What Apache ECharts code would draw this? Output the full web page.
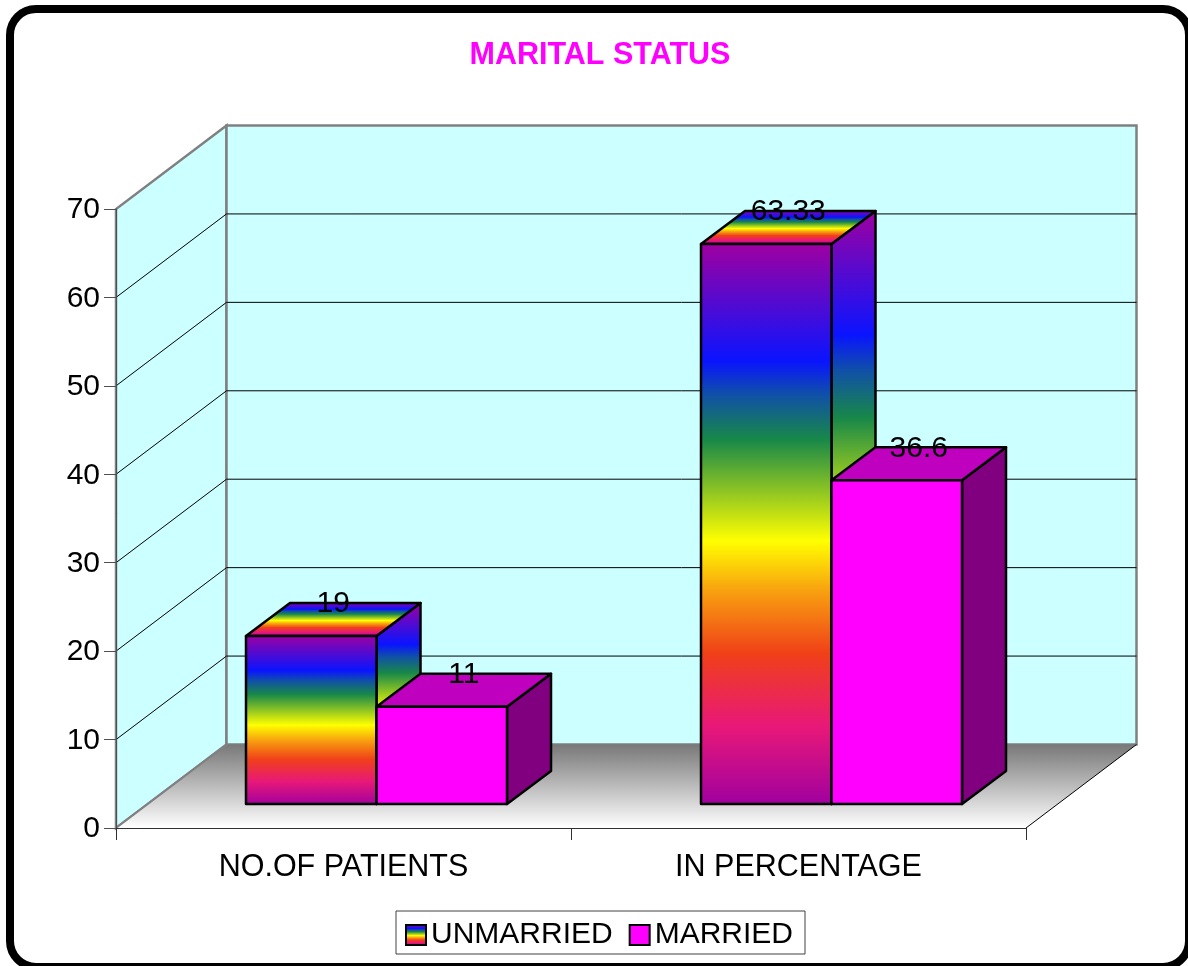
<!DOCTYPE html>
<html>
<head>
<meta charset="utf-8">
<style>html,body{margin:0;padding:0;background:#fff}#c{width:1188px;height:966px}</style>
<script src="https://cdn.jsdelivr.net/npm/echarts@6/dist/echarts.min.js"></script>
</head>
<body>
<div id="c"></div>
<script>
const titleText = 'MARITAL STATUS';
const categories = ['NO.OF PATIENTS', 'IN PERCENTAGE'];
const unmarried = [19, 63.33];
const married = [11, 36.6];
const seriesNames = ['UNMARRIED', 'MARRIED'];
const yTicks = [0, 10, 20, 30, 40, 50, 60, 70];

const FONT = '"Liberation Sans", Arial, sans-serif';
const WALL_DX = 110.5, WALL_DY = 83.5;
const BAR_W = 130.5, BAR_DX = 44, BAR_DY = 33, FLOOR_UP = 24, GROUP_SHIFT = -97.5;

const rainbow = {
  type: 'linear', x: 0, y: 0, x2: 0, y2: 1,
  colorStops: [
    { offset: 0, color: '#A000A0' },
    { offset: 0.21, color: '#0A14FF' },
    { offset: 0.27, color: '#1050A8' },
    { offset: 0.35, color: '#188848' },
    { offset: 0.53, color: '#FFFF00' },
    { offset: 0.62, color: '#F8A010' },
    { offset: 0.73, color: '#F04018' },
    { offset: 0.86, color: '#E81878' },
    { offset: 1, color: '#A000A0' }
  ]
};
const faces = [
  { front: rainbow, top: rainbow, side: rainbow },
  { front: '#FF00FF', top: '#BF00BF', side: '#800080' }
];

function wallsRender(params, api) {
  if (params.dataIndex !== 0) return;
  const c = params.coordSys;
  const x0 = c.x, x1 = c.x + c.width, yb = c.y + c.height, yt = c.y;
  const dx = WALL_DX, dy = WALL_DY;
  return {
    type: 'group',
    children: [
      { type: 'polygon', shape: { points: [[x0, yb], [x0, yt], [x0 + dx, yt - dy], [x0 + dx, yb - dy]] },
        style: { fill: '#CCFFFF', stroke: '#808080', lineWidth: 2.5 } },
      { type: 'polygon', shape: { points: [[x0 + dx, yt - dy], [x1 + dx, yt - dy], [x1 + dx, yb - dy], [x0 + dx, yb - dy]] },
        style: { fill: '#CCFFFF', stroke: '#808080', lineWidth: 2.5 } },
      { type: 'polygon', shape: { points: [[x0, yb], [x1, yb], [x1 + dx, yb - dy], [x0 + dx, yb - dy]] },
        style: { fill: { type: 'linear', x: 0, y: 0, x2: 0, y2: 1, colorStops: [{ offset: 0, color: '#787878' }, { offset: 1, color: '#FFFFFF' }] } } },
      { type: 'line', shape: { x1: x0, y1: yb, x2: x0 + dx, y2: yb - dy }, style: { stroke: '#808080', lineWidth: 2 } },
      { type: 'line', shape: { x1: x1, y1: yb, x2: x1 + dx, y2: yb - dy }, style: { stroke: '#000', lineWidth: 1 } }
    ]
  };
}

function gridRender(params, api) {
  const v = api.value(0);
  const c = params.coordSys;
  const y = api.coord([0, v])[1];
  const x0 = c.x, x1 = c.x + c.width;
  const children = [
    { type: 'text', style: { text: String(v), x: x0 - 16, y: y + 1, font: '30px ' + FONT, fill: '#000', align: 'right', verticalAlign: 'middle' } }
  ];
  if (v !== yTicks[0] && v !== yTicks[yTicks.length - 1]) {
    children.push({
      type: 'polyline',
      shape: { points: [[x0, y], [x0 + WALL_DX, y - WALL_DY], [x1 + WALL_DX, y - WALL_DY]] },
      style: { stroke: '#000', lineWidth: 1, fill: null }
    });
  }
  return { type: 'group', children };
}

function barRender(seriesIndex) {
  return function (params, api) {
    const idx = api.value(0), val = api.value(1);
    const centre = api.coord([idx, 0])[0];
    const left = centre + GROUP_SHIFT + seriesIndex * BAR_W;
    const right = left + BAR_W;
    const base = api.coord([idx, 0])[1] - FLOOR_UP;
    const top = api.coord([idx, val])[1] - FLOOR_UP;
    const f = faces[seriesIndex];
    const edge = { stroke: '#000', lineWidth: 2.5, lineJoin: 'round' };
    return {
      type: 'group',
      children: [
        { type: 'polygon', shape: { points: [[right, top], [right + BAR_DX, top - BAR_DY], [right + BAR_DX, base - BAR_DY], [right, base]] },
          style: Object.assign({ fill: f.side }, edge) },
        { type: 'polygon', shape: { points: [[left, top], [left + BAR_DX, top - BAR_DY], [right + BAR_DX, top - BAR_DY], [right, top]] },
          style: Object.assign({ fill: f.top }, edge) },
        { type: 'polygon', shape: { points: [[left, top], [right, top], [right, base], [left, base]] },
          style: Object.assign({ fill: f.front }, edge) },
        { type: 'text', style: { text: String(val), x: (left + right + BAR_DX) / 2, y: top - BAR_DY + 1,
            font: '30px ' + FONT, fill: '#000', align: 'center', verticalAlign: 'middle' } }
      ]
    };
  };
}

const chart = echarts.init(document.getElementById('c'), null, { renderer: 'canvas' });
chart.setOption({
  animation: false,
  backgroundColor: '#fff',
  title: {
    text: titleText, left: 595, top: 35, textAlign: 'center',
    textStyle: { fontFamily: FONT, fontSize: 30.5, fontWeight: 'bold', color: '#FF00FF' }
  },
  graphic: [{
    type: 'rect', z: -10, silent: true,
    shape: { x: 10, y: 9, width: 1179, height: 958, r: 26 },
    style: { fill: '#fff', stroke: '#000', lineWidth: 8 }
  }],
  legend: {
    left: 396, top: 911, orient: 'horizontal',
    padding: [9, 12, 4, 9], itemGap: 16, itemWidth: 20, itemHeight: 20,
    borderColor: '#404040', borderWidth: 1, selectedMode: false,
    textStyle: { fontFamily: FONT, fontSize: 30, color: '#000' },
    data: [
      { name: seriesNames[0], icon: 'rect', itemStyle: { color: rainbow, borderColor: '#000', borderWidth: 2 } },
      { name: seriesNames[1], icon: 'rect', itemStyle: { color: '#FF00FF', borderColor: '#000', borderWidth: 2 } }
    ]
  },
  grid: { left: 116, top: 209, width: 910, height: 619, containLabel: false },
  xAxis: {
    type: 'category', data: categories, z: 6,
    axisLine: { show: true, onZero: false, lineStyle: { color: '#303030', width: 1 } },
    axisTick: { show: true, length: 12, alignWithLabel: false, lineStyle: { color: '#303030' } },
    axisLabel: { margin: 24, fontFamily: FONT, fontSize: 30.5, color: '#000', interval: 0 },
    splitLine: { show: false }
  },
  yAxis: {
    type: 'value', min: yTicks[0], max: yTicks[yTicks.length - 1], interval: 10, z: 6,
    axisLine: { show: true, lineStyle: { color: '#505050', width: 1 } },
    axisTick: { show: true, length: 12, lineStyle: { color: '#505050' } },
    axisLabel: { show: false },
    splitLine: { show: false }
  },
  series: [
    { type: 'custom', name: 'walls', z: 1, silent: true, renderItem: wallsRender, data: [[0]], encode: { x: -1, y: -1 } },
    { type: 'custom', name: 'gridlines', z: 2, silent: true, renderItem: gridRender, data: yTicks.map(v => [v]), encode: { x: -1, y: 0 } },
    { type: 'custom', name: seriesNames[0], z: 3, silent: true, renderItem: barRender(0),
      itemStyle: { color: '#A000A0' },
      data: unmarried.map((v, i) => [i, v]), encode: { x: 0, y: 1 } },
    { type: 'custom', name: seriesNames[1], z: 4, silent: true, renderItem: barRender(1),
      itemStyle: { color: '#FF00FF' },
      data: married.map((v, i) => [i, v]), encode: { x: 0, y: 1 } }
  ]
});
</script>
</body>
</html>
